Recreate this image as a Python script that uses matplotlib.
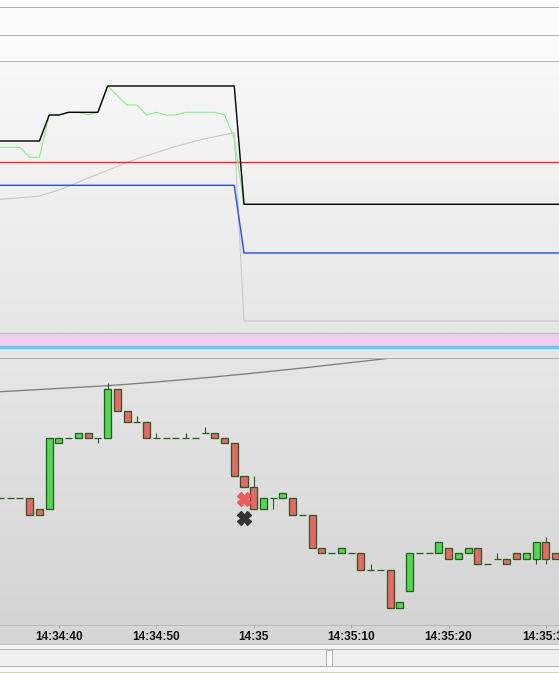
import numpy as np
import matplotlib
matplotlib.use("Agg")
import matplotlib.pyplot as plt
import matplotlib.colors as mcolors
from matplotlib.patches import Rectangle

# ---------------- data ----------------
# one candle per second, starting at 14:34:34 (seconds after 14:34:00)
t0 = 34
opens  = [-11,-11,-11,-11,-13,-13,-1,0,0,1,0,0,9,5,3,3,0,0,0,0,0,1,1,0,-1,-7,-9,-13,-11,-11,
          -11,-14,-14,-20,-21,-21,-21,-21,-24,-24,-24,-31,-28,-21,-21,-21,-20,-22,-21,-20,-23,-22,-22,-21,-22,-22,-19,-21]
highs  = [-11,-11,-11,-11,-13,0,0,0,1,1,0,10,9,5,4,3,1,0,0,1,0,2,1,0,-1,-7,-7,-11,-11,-10,
          -11,-14,-14,-20,-21,-20,-21,-21,-23,-24,-24,-30,-21,-21,-21,-19,-20,-21,-20,-20,-23,-21,-22,-21,-21,-19,-18,-21]
lows   = [-11,-11,-11,-14,-14,-13,-1,0,0,0,-1,0,5,3,3,0,0,0,0,0,0,1,0,-1,-7,-9,-13,-13,-13,-11,
          -14,-14,-20,-21,-21,-21,-21,-24,-24,-24,-31,-31,-28,-21,-21,-21,-22,-22,-21,-23,-23,-22,-23,-22,-22,-23,-23,-22]
closes = [-11,-11,-11,-14,-14,0,0,0,1,0,0,9,5,3,3,0,0,0,0,0,0,1,0,-1,-7,-9,-13,-11,-11,-10,
          -14,-14,-20,-21,-21,-20,-21,-24,-24,-24,-31,-30,-21,-21,-21,-19,-22,-21,-20,-23,-23,-22,-23,-22,-21,-19,-22,-22]
moving_avg = [8.45,8.55,8.65,8.75,8.85,8.95,9.05,9.15,9.25,9.35,9.45,9.55,9.68,9.81,9.95,10.09,10.23,10.38,
              10.53,10.68,10.84,11.0,11.16,11.33,11.5,11.67,11.85,12.03,12.21,12.4,12.59,12.78,12.97,13.17,
              13.37,13.57,13.77,13.97,14.17,14.37,14.57,14.77,14.97,15.17,15.37,15.57,15.77,15.97,16.17,
              16.37,16.57,16.77,16.97,17.17,17.37,17.57,17.77,17.97]
trade_sec = 59
trade_red = -11.1
trade_black = -14.6

# upper indicator panel (one value per second, 14:34:34 .. 14:35:32)
black_line = [192]*5 + [218]*2 + [220.7]*4 + [247]*14 + [128.7]*34
green_line = [185.7,185.7,185.7,175.7,175.7,218,218,220.7,220.7,218,220.7,247,237.3,228,228,218,220.7,
              218,218,220.7,220.7,220.7,220.7,218,194.7] + [128.7]*34
gray_line = [133.7,134.5,135.2,136,137,140,143.1,146.6,151,155,158.9,162.7,166.6,170.5,174.2,177.3,180.4,
             183.6,186.7,189.3,191.8,194.3,196.3,198.3,200.3] + [12]*34
blue_line = [147.7]*25 + [80]*34
red_level = 170.7

tick_secs = [40, 50, 60, 70, 80, 90]
tick_labels = ["14:34:40", "14:34:50", "14:35", "14:35:10", "14:35:20", "14:35:30"]

# ---------------- figure ----------------
W, H = 559, 673
fig = plt.figure(figsize=(W/100, H/100), dpi=100)
fig.patch.set_facecolor("#fcfcfc")

PX = 0.72  # one pixel in points

def rect(top, bottom):
    return [0, 1 - bottom/H, 1, (bottom - top)/H]

bg = fig.add_axes([0, 0, 1, 1], zorder=0)
bg.set_xlim(0, W); bg.set_ylim(H, 0); bg.axis("off")
def band(y0, y1, c):
    bg.add_patch(Rectangle((0, y0), W, y1 - y0, facecolor=c, edgecolor="none"))
band(0, 7, "#fdfdfd")
band(7, 35, "#fbfbfb")
band(35, 61.5, "#f9f9f9")
band(333, 346.3, "#efcdee")
band(346.3, 349.3, "#35c3f2")
band(347.4, 348.2, "#8adcf8")
band(349.3, 358.5, "#e6e6e6")
band(625, 644.5, "#d6d6d6")
band(644.5, 649.5, "#f4f4f4")
band(649.5, 666, "#efefef")
band(666, 672, "#f9f9f9")
band(672, 673, "#d8d3a8")
for y, c in [(7, "#b0b0b0"), (35, "#b0b0b0"), (61.3, "#b0b0b0"), (333.3, "#b8b8b8"),
             (358.3, "#b0b0b0"), (625.3, "#b8b8b8"), (644.3, "#c0c0c0"), (649.3, "#b4b4b4"),
             (665.8, "#b4b4b4")]:
    bg.axhline(y, color=c, lw=PX)
bg.add_patch(Rectangle((326, 649.5), 6, 16.3, facecolor="#f8f8f8", edgecolor="#b4b4b4", lw=PX))

def vgrad(ax, top, bottom):
    c1 = np.array(mcolors.to_rgb(top)); c2 = np.array(mcolors.to_rgb(bottom))
    g = np.linspace(0, 1, 256)[:, None, None]
    img = c1[None, None, :]*(1 - g) + c2[None, None, :]*g
    ax.imshow(img, extent=(0, 1, 0, 1), transform=ax.transAxes, aspect="auto",
              zorder=0, origin="upper", interpolation="bilinear")

xmin = t0 + (0 - 0.5)/9.74
xmax = t0 + (W - 0.5)/9.74
secs = np.arange(t0, t0 + len(opens))
line_secs = np.arange(t0, t0 + len(black_line))

# upper panel
ax1 = fig.add_axes(rect(61.5, 333), zorder=1)
vgrad(ax1, "#f8f8f8", "#e6e6e6")
ax1.plot(line_secs, gray_line, color="#c8c8c8", lw=1.1*PX, zorder=2)
ax1.axhline(red_level, color="#ff2020", lw=1.3*PX, zorder=3)
ax1.plot(line_secs, blue_line, color="#1f50f5", lw=1.4*PX, zorder=3)
ax1.plot(line_secs, green_line, color="#84f084", lw=1.1*PX, zorder=4)
ax1.plot(line_secs, black_line, color="#000000", lw=1.4*PX, zorder=5)
ax1.set_xlim(xmin, xmax); ax1.set_ylim(0, 271.5)
ax1.axis("off")

# lower panel
ax2 = fig.add_axes(rect(358.5, 625), zorder=1)
vgrad(ax2, "#e6e6e6", "#d4d4d4")
edge = "#2a5a20"
ax2.plot(secs, moving_avg, color="#7c7c7c", lw=1.3*PX, zorder=2)
ax2.vlines(secs, lows, highs, color=edge, lw=1.1*PX, zorder=3)
o = np.array(opens); c = np.array(closes)
body = o != c
fills = np.where(c > o, "#52d852", "#e86868")
ax2.bar(secs[body], np.abs(c - o)[body], bottom=np.minimum(o, c)[body], width=0.72,
        color=fills[body], edgecolor=edge, linewidth=1.3*PX, zorder=4)
ax2.hlines(o[~body], secs[~body] - 0.36, secs[~body] + 0.36, color=edge, lw=1.3*PX, zorder=4)
ax2.plot([trade_sec], [trade_red], marker="X", ms=9.5, color="#f05858", mec="#f05858", ls="none", zorder=6)
ax2.plot([trade_sec], [trade_black], marker="X", ms=9.5, color="#333333", mec="#333333", ls="none", zorder=6)
ax2.set_xlim(xmin, xmax); ax2.set_ylim(-34.12, 14.51)
ax2.axis("off")

# time axis strip
ax3 = fig.add_axes(rect(625, 644.5), zorder=1)
ax3.set_facecolor("none")
ax3.set_xlim(xmin, xmax); ax3.set_ylim(0, 1)
for s in ax3.spines.values():
    s.set_visible(False)
ax3.set_yticks([])
ax3.set_xticks(tick_secs)
ax3.tick_params(axis="x", top=True, bottom=False, labeltop=False, labelbottom=False,
                direction="in", length=2.5, width=PX, color="#a8a8a8")
for ts, lab in zip(tick_secs, tick_labels):
    ax3.text(ts, 0.4, lab, ha="center", va="center", fontsize=8.6, fontweight="bold",
             family=["Liberation Sans", "DejaVu Sans"], color="#111111")

fig.savefig("out.png", dpi=100)
